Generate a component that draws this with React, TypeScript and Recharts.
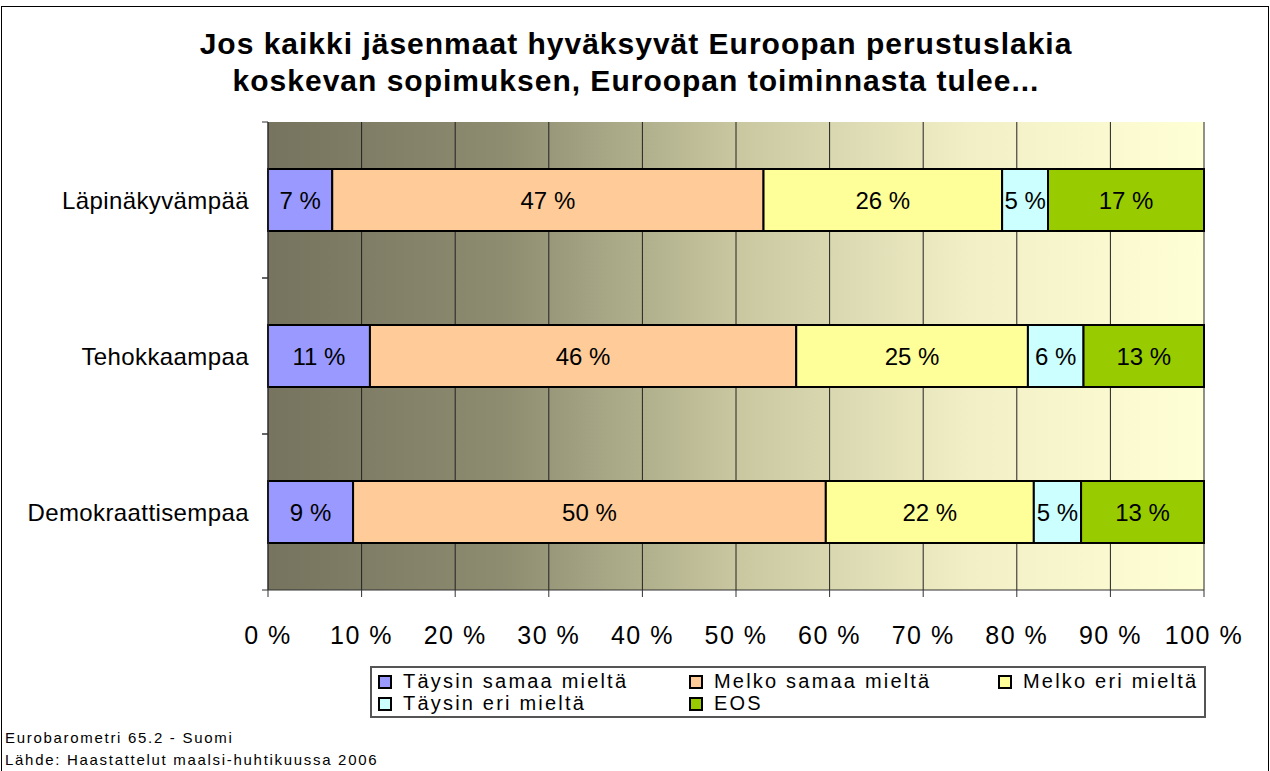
import { BarChart, Bar, XAxis, YAxis, CartesianGrid, LabelList } from 'recharts';

const categories = ['Läpinäkyvämpää', 'Tehokkaampaa', 'Demokraattisempaa'];

const taysinSamaa = [7, 11, 9];
const melkoSamaa = [47, 46, 50];
const melkoEri = [26, 25, 22];
const taysinEri = [5, 6, 5];
const eos = [17, 13, 13];

const xTicks = [0, 0.1, 0.2, 0.3, 0.4, 0.5, 0.6, 0.7, 0.8, 0.9, 1];

const series = [
    { key: 'ts', name: 'Täysin samaa mieltä', values: taysinSamaa, color: '#9999ff' },
    { key: 'ms', name: 'Melko samaa mieltä', values: melkoSamaa, color: '#ffcc99' },
    { key: 'me', name: 'Melko eri mieltä', values: melkoEri, color: '#ffff99' },
    { key: 'te', name: 'Täysin eri mieltä', values: taysinEri, color: '#ccffff' },
    { key: 'eos', name: 'EOS', values: eos, color: '#99cc00' },
];

const data = categories.map((name, i) => {
    const row: any = { name };
    series.forEach((s) => {
        row[s.key] = s.values[i];
    });
    return row;
});

const font = '"Liberation Sans", Arial, sans-serif';

// category label plus the tick marks at the band edges (Excel style)
const CategoryTick = (props: any) => {
    const { x, y, payload } = props;
    const half = payload.offset ?? 0;
    return (
        <g>
            <text x={x} y={y} dy="0.355em" textAnchor="end" fill="#000" fontSize={24} fontFamily={font} letterSpacing={0.4}>
                {payload.value}
            </text>
            <line x1={x + 13} x2={x + 19} y1={y - half} y2={y - half} stroke="#333" />
            <line x1={x + 13} x2={x + 19} y1={y + half} y2={y + half} stroke="#333" />
        </g>
    );
};

const legendCols = [378, 689, 998];

export default function App() {
    return (
        <div style={{ position: 'absolute', left: 0, top: 0, width: 1270, height: 771, background: '#fff', fontFamily: font, overflow: 'hidden' }}>
            <div style={{ position: 'absolute', left: 1, top: 6, width: 1266, height: 770, border: '1px solid #000' }} />
            <div style={{ position: 'absolute', left: 0, top: 25, width: 1272, textAlign: 'center', fontWeight: 'bold', fontSize: 30, letterSpacing: 1, lineHeight: '37px', color: '#000' }}>
                Jos kaikki jäsenmaat hyväksyvät Euroopan perustuslakia
                <br />
                koskevan sopimuksen, Euroopan toiminnasta tulee...
            </div>
            <BarChart
                width={1270}
                height={771}
                data={data}
                layout="vertical"
                stackOffset="expand"
                margin={{ top: 122, right: 66, bottom: 121, left: 0 }}
                style={{ position: 'absolute', left: 0, top: 0 }}
            >
                <defs>
                    <linearGradient id="bgGrad" x1="0" y1="0" x2="1" y2="0">
                        <stop offset="0%" stopColor="#76735e" />
                        <stop offset="25%" stopColor="#8d8c70" />
                        <stop offset="50%" stopColor="#c8c7a0" />
                        <stop offset="75%" stopColor="#f2efc6" />
                        <stop offset="100%" stopColor="#ffffd6" />
                    </linearGradient>
                </defs>
                <CartesianGrid horizontal={false} stroke="#222" fill="url(#bgGrad)" fillOpacity={1} />
                <XAxis
                    type="number"
                    domain={[0, 1]}
                    ticks={xTicks}
                    tickFormatter={(v: number) => `${Math.round(v * 100)} %`}
                    axisLine={{ stroke: '#333' }}
                    tickLine={{ stroke: '#333' }}
                    tickSize={7}
                    tickMargin={29}
                    height={60}
                    tick={{ fill: '#000', fontSize: 25, fontFamily: font, letterSpacing: 1.5 }}
                    interval={0}
                />
                <YAxis
                    type="category"
                    dataKey="name"
                    width={268}
                    axisLine={{ stroke: '#333' }}
                    tickLine={false}
                    tickSize={0}
                    tickMargin={19}
                    tick={<CategoryTick />}
                />
                {series.map((s) => (
                    <Bar
                        key={s.key}
                        dataKey={s.key}
                        name={s.name}
                        stackId="a"
                        fill={s.color}
                        stroke="#000"
                        strokeWidth={2}
                        barSize={62}
                        isAnimationActive={false}
                    >
                        <LabelList
                            dataKey={s.key}
                            position="center"
                            formatter={(v: any) => `${v} %`}
                            style={{ fill: '#000', fontSize: 24, fontFamily: font }}
                        />
                    </Bar>
                ))}
            </BarChart>
            <div style={{ position: 'absolute', left: 370, top: 666, width: 832, height: 48, border: '2px solid #555', background: '#fff' }} />
            {series.map((s, i) => {
                const col = i % 3;
                const row = Math.floor(i / 3);
                return (
                    <div
                        key={s.key}
                        style={{
                            position: 'absolute',
                            left: legendCols[col],
                            top: 671 + row * 22,
                            height: 21,
                            display: 'flex',
                            alignItems: 'center',
                            fontSize: 20,
                            letterSpacing: 2.2,
                            lineHeight: '21px',
                            color: '#000',
                            whiteSpace: 'nowrap',
                        }}
                    >
                        <span style={{ display: 'inline-block', width: 10, height: 10, background: s.color, border: '2px solid #000', marginRight: 11 }} />
                        <span>{s.name}</span>
                    </div>
                );
            })}
            <div style={{ position: 'absolute', left: 5, top: 727, fontSize: 15, letterSpacing: 1.7, lineHeight: '22px', color: '#000' }}>
                Eurobarometri 65.2 - Suomi
                <br />
                Lähde: Haastattelut maalsi-huhtikuussa 2006
            </div>
        </div>
    );
}
